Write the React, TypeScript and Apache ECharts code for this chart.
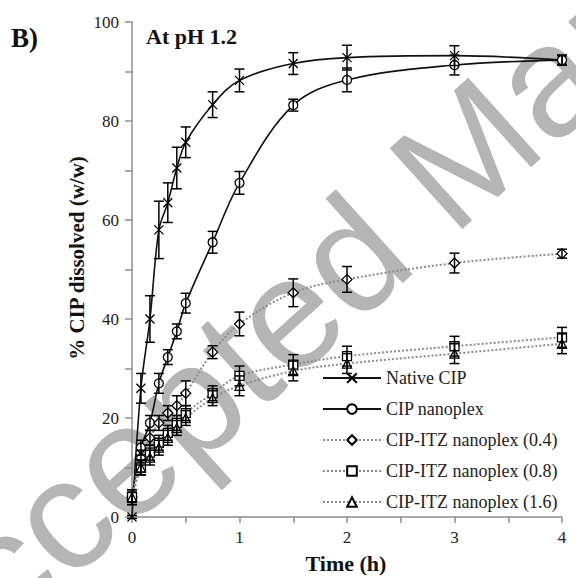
import React, { useEffect, useRef } from "react";
import * as echarts from "echarts";

const times = [0, 0.083, 0.167, 0.25, 0.333, 0.417, 0.5, 0.75, 1, 1.5, 2, 3, 4];
const nativeCIP = [0, 26, 40, 58, 63.5, 70.5, 75.7, 83.3, 88.2, 91.6, 92.8, 93.2, 92.3];
const nativeErr = [0.3, 3, 4.7, 5.8, 4, 4.2, 3.1, 2.6, 2.3, 2.2, 2.5, 2, 1];
const cipNano = [4, 14, 19, 27, 32.3, 37.5, 43.2, 55.5, 67.5, 83.2, 88.3, 91.3, 92.3];
const cipNanoErr = [1, 1.5, 1.5, 2, 1.5, 1.5, 2, 2.2, 2.3, 1.2, 2.4, 2, 1];
const itz04 = [4, 12, 16, 19, 21, 22.5, 25, 33.3, 39, 45.3, 48, 51.3, 53.2];
const itz04Err = [1, 1.5, 1.5, 1.5, 1.5, 2, 2.5, 1.3, 2.4, 2.8, 2.6, 2, 0.9];
const itz08 = [4, 10, 13, 15, 17, 19, 21, 25, 28.5, 30.8, 32.5, 34.5, 36.3];
const itz08Err = [1.5, 1.5, 1.5, 1.5, 1.5, 1.5, 1.5, 1.5, 2, 2, 2, 2, 2];
const itz16 = [4, 10, 12, 14, 16, 18, 20, 24, 26.5, 29.5, 31, 33, 35];
const itz16Err = [1.5, 1.5, 1.5, 1.5, 1.5, 1.5, 1.5, 1.5, 2, 2, 2, 2, 2];

const seriesNames = [
  "Native CIP",
  "CIP nanoplex",
  "CIP-ITZ nanoplex (0.4)",
  "CIP-ITZ nanoplex (0.8)",
  "CIP-ITZ nanoplex (1.6)",
];

const SERIF = "'Liberation Serif', 'DejaVu Serif', serif";

function errorSeries(vals: number[], errs: number[]) {
  return {
    type: "custom",
    z: 4,
    silent: true,
    data: times.map((t, i) => [t, vals[i] - errs[i], vals[i] + errs[i]]),
    renderItem: (params: any, api: any) => {
      const x = api.value(0);
      const lo = api.coord([x, api.value(1)]);
      const hi = api.coord([x, api.value(2)]);
      const w = 5;
      const style = { stroke: "#000", lineWidth: 1.5 };
      return {
        type: "group",
        children: [
          { type: "line", shape: { x1: lo[0], y1: lo[1], x2: hi[0], y2: hi[1] }, style },
          { type: "line", shape: { x1: lo[0] - w, y1: lo[1], x2: lo[0] + w, y2: lo[1] }, style },
          { type: "line", shape: { x1: hi[0] - w, y1: hi[1], x2: hi[0] + w, y2: hi[1] }, style },
        ],
      };
    },
  };
}

function lineSeries(name: string, vals: number[], symbol: string, size: number, solid: boolean) {
  return {
    name,
    type: "line",
    smooth: 0.35,
    z: 3,
    data: times.map((t, i) => [t, vals[i]]),
    symbol,
    symbolSize: size,
    showAllSymbol: true,
    lineStyle: solid
      ? { color: "#111", width: 1.6, type: "solid" }
      : { color: "#8c8c8c", width: 2, type: [2, 2] },
    itemStyle: { color: "#fff", borderColor: "#000", borderWidth: 1.3 },
  };
}

export default function App() {
  const ref = useRef<HTMLDivElement>(null);
  useEffect(() => {
    if (!ref.current) return;
    const chart = echarts.init(ref.current, null, { renderer: "svg" });
    const deg = (42 * Math.PI) / 180;
    chart.setOption({
      animation: false,
      backgroundColor: "#fff",
      grid: { left: 132, right: 14, top: 22, bottom: 61 },
      xAxis: {
        type: "value",
        min: 0,
        max: 4,
        interval: 0.5,
        axisLine: { show: true, lineStyle: { color: "#8c8c8c", width: 1.5 } },
        axisTick: { show: true, length: 6, lineStyle: { color: "#8c8c8c", width: 1.5 } },
        splitLine: { show: false },
        axisLabel: {
          margin: 12,
          color: "#222",
          fontFamily: SERIF,
          fontSize: 17,
          formatter: (v: number) => (Math.abs(v - Math.round(v)) < 1e-6 ? String(Math.round(v)) : ""),
        },
      },
      yAxis: {
        type: "value",
        min: 0,
        max: 100,
        interval: 10,
        axisLine: { show: true, lineStyle: { color: "#8c8c8c", width: 1.5 } },
        axisTick: { show: true, length: 7, lineStyle: { color: "#8c8c8c", width: 1.5 } },
        splitLine: { show: false },
        axisLabel: {
          margin: 13,
          color: "#222",
          fontFamily: SERIF,
          fontSize: 17,
          formatter: (v: number) => (Math.round(v) % 20 === 0 ? String(Math.round(v)) : ""),
        },
      },
      legend: {
        orient: "vertical",
        left: 322,
        top: 369,
        padding: 0,
        itemWidth: 58,
        itemHeight: 12,
        itemGap: 13,
        data: seriesNames,
        textStyle: { fontFamily: SERIF, fontSize: 18, lineHeight: 16, color: "#222" },
        selectedMode: false,
      },
      graphic: [
        {
          type: "text",
          x: -106,
          y: 667,
          rotation: deg,
          silent: true,
          z: -10,
          style: {
            text: "Accepted Manuscript",
            fontFamily: "'Liberation Sans', Arial, sans-serif",
            fontSize: 158,
            fill: "#b5b5b5",
            align: "left",
            verticalAlign: "middle",
          },
        },
        {
          type: "text",
          left: 11,
          top: 24,
          style: { text: "B)", fontFamily: SERIF, fontSize: 27, fontWeight: "bold", fill: "#111" },
        },
        {
          type: "text",
          left: 146,
          top: 25,
          style: { text: "At pH 1.2", fontFamily: SERIF, fontSize: 22, fontWeight: "bold", fill: "#111" },
        },
        {
          type: "text",
          x: 346,
          y: 563,
          style: {
            text: "Time (h)",
            fontFamily: SERIF,
            fontSize: 22,
            fontWeight: "bold",
            fill: "#111",
            align: "center",
            verticalAlign: "middle",
          },
        },
        {
          type: "text",
          x: 77,
          y: 258,
          rotation: Math.PI / 2,
          style: {
            text: "% CIP dissolved (w/w)",
            fontFamily: SERIF,
            fontSize: 21,
            fontWeight: "bold",
            fill: "#111",
            align: "center",
            verticalAlign: "middle",
          },
        },
      ],
      series: [
        {
          ...lineSeries(seriesNames[0], nativeCIP, "path://M0,0L10,10M10,0L0,10", 9, true),
          itemStyle: { color: "#000", borderColor: "#000", borderWidth: 1.3 },
        },
        lineSeries(seriesNames[1], cipNano, "circle", 9, true),
        lineSeries(seriesNames[2], itz04, "diamond", 10, false),
        lineSeries(seriesNames[3], itz08, "rect", 9, false),
        lineSeries(seriesNames[4], itz16, "triangle", 9, false),
        errorSeries(nativeCIP, nativeErr),
        errorSeries(cipNano, cipNanoErr),
        errorSeries(itz04, itz04Err),
        errorSeries(itz08, itz08Err),
        errorSeries(itz16, itz16Err),
      ],
    });
    return () => chart.dispose();
  }, []);
  return <div ref={ref} style={{ width: 576, height: 578, position: "absolute", left: 0, top: 0 }} />;
}
